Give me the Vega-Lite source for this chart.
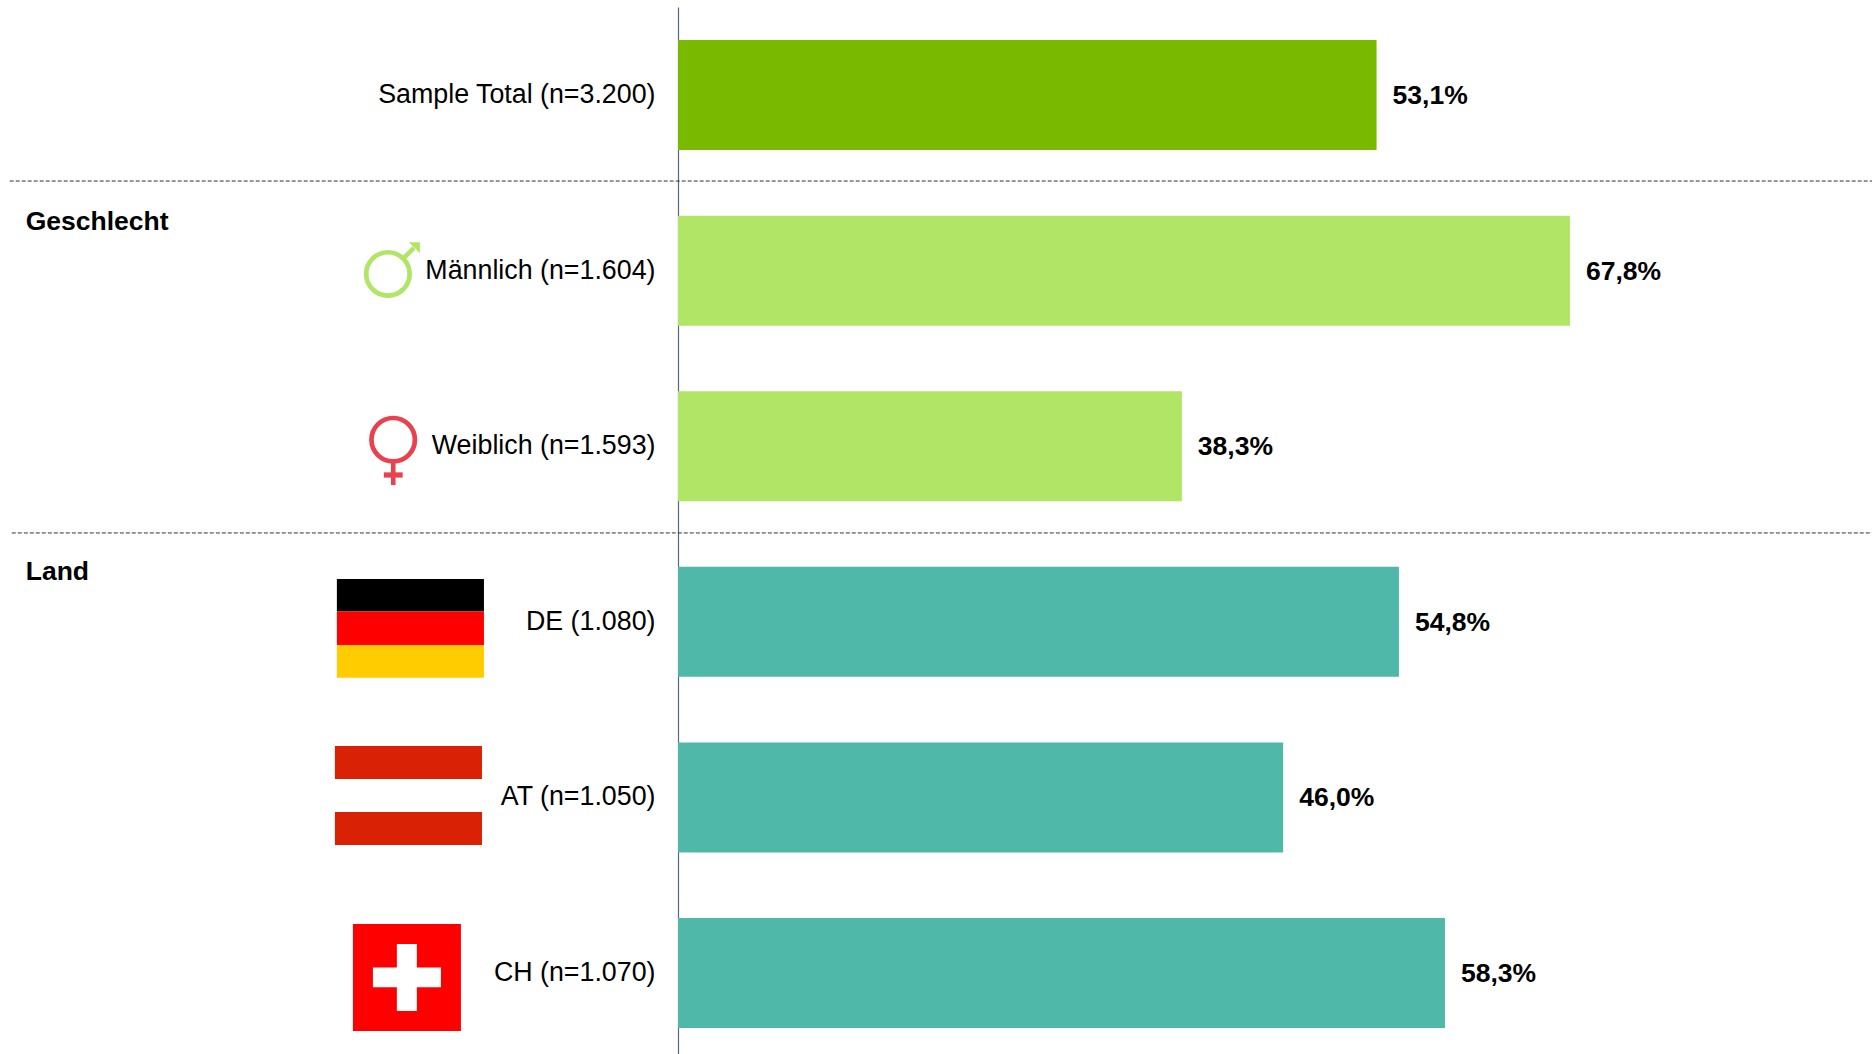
{
"$schema":"https://vega.github.io/schema/vega-lite/v6.json",
"width":1194,"height":1047,
"autosize":"none",
"padding":{"left":678,"top":7,"right":0,"bottom":0},
"background":"white",
"config":{"view":{"stroke":null},"text":{"font":"Liberation Sans"}},
"layer":[
{"data":{"values":[
{"row":"Sample Total (n=3.200)","group":"Total","value":53.1,"label":"53,1%"},
{"row":"Männlich (n=1.604)","group":"Geschlecht","value":67.8,"label":"67,8%"},
{"row":"Weiblich (n=1.593)","group":"Geschlecht","value":38.3,"label":"38,3%"},
{"row":"DE (1.080)","group":"Land","value":54.8,"label":"54,8%"},
{"row":"AT (n=1.050)","group":"Land","value":46.0,"label":"46,0%"},
{"row":"CH (n=1.070)","group":"Land","value":58.3,"label":"58,3%"}
]},
"layer":[
{"mark":{"type":"bar"},
"encoding":{
"y":{"field":"row","type":"nominal","sort":null,"title":null,
"scale":{"domain":["Sample Total (n=3.200)","Männlich (n=1.604)","Weiblich (n=1.593)","DE (1.080)","AT (n=1.050)","CH (n=1.070)"],"paddingInner":0.3736,"paddingOuter":0.168,"align":0.56},
"axis":{"title":null,"ticks":false,"domain":true,"domainColor":"#566684","domainWidth":1.2,"labelFont":"Liberation Sans","labelFontSize":26.8,"labelColor":"#000000","labelPadding":23,"labelLimit":400,"grid":false}},
"x":{"field":"value","type":"quantitative","axis":null,"scale":{"domain":[0,90.76],"zero":false,"nice":false}},
"color":{"field":"group","type":"nominal","legend":null,"scale":{"domain":["Total","Geschlecht","Land"],"range":["#79B900","#B0E566","#50B8A9"]}}
}},
{"mark":{"type":"text","align":"left","baseline":"middle","dx":16,"dy":1,"fontSize":26.5,"fontWeight":"bold","color":"#000000"},
"encoding":{
"y":{"field":"row","type":"nominal","sort":null,"title":null},
"x":{"field":"value","type":"quantitative"},
"text":{"field":"label"}
}}
]},
{"data":{"values":[{}]},
"layer":[
{"mark":{"type":"rule","color":"#333333","strokeWidth":1,"strokeDash":[4,2]},
"encoding":{"x":{"datum":-50.80,"type":"quantitative"},"x2":{"datum":90.76},
"y":{"datum":0.49,"type":"quantitative","axis":null,"scale":{"domain":[5.4613,-0.5011],"zero":false,"nice":false}}}},
{"mark":{"type":"rule","color":"#333333","strokeWidth":1,"strokeDash":[4,2]},
"encoding":{"x":{"datum":-50.64,"type":"quantitative"},"x2":{"datum":90.76},"y":{"datum":2.494,"type":"quantitative"}}},
{"mark":{"type":"text","align":"left","baseline":"middle","fontSize":26.5,"fontWeight":"bold","color":"#000000","text":"Geschlecht"},
"encoding":{"x":{"datum":-49.58,"type":"quantitative"},"y":{"datum":0.724,"type":"quantitative"}}},
{"mark":{"type":"text","align":"left","baseline":"middle","fontSize":26.5,"fontWeight":"bold","color":"#000000","text":"Land"},
"encoding":{"x":{"datum":-49.58,"type":"quantitative"},"y":{"datum":2.717,"type":"quantitative"}}},
{"mark":{"type":"rect","color":"#000000"},"encoding":{"x":{"datum":-25.93,"type":"quantitative"},"x2":{"datum":-14.75},"y":{"datum":2.756,"type":"quantitative"},"y2":{"datum":2.942}}},
{"mark":{"type":"rect","color":"#FF0000"},"encoding":{"x":{"datum":-25.93,"type":"quantitative"},"x2":{"datum":-14.75},"y":{"datum":2.942,"type":"quantitative"},"y2":{"datum":3.132}}},
{"mark":{"type":"rect","color":"#FFCC00"},"encoding":{"x":{"datum":-25.93,"type":"quantitative"},"x2":{"datum":-14.75},"y":{"datum":3.132,"type":"quantitative"},"y2":{"datum":3.318}}},
{"mark":{"type":"rect","color":"#D92105"},"encoding":{"x":{"datum":-26.08,"type":"quantitative"},"x2":{"datum":-14.90},"y":{"datum":3.707,"type":"quantitative"},"y2":{"datum":3.895}}},
{"mark":{"type":"rect","color":"#D92105"},"encoding":{"x":{"datum":-26.08,"type":"quantitative"},"x2":{"datum":-14.90},"y":{"datum":4.083,"type":"quantitative"},"y2":{"datum":4.271}}},
{"mark":{"type":"rect","color":"#FF0000"},"encoding":{"x":{"datum":-24.71,"type":"quantitative"},"x2":{"datum":-16.50},"y":{"datum":4.721,"type":"quantitative"},"y2":{"datum":5.33}}},
{"mark":{"type":"rect","color":"#FFFFFF"},"encoding":{"x":{"datum":-21.37,"type":"quantitative"},"x2":{"datum":-19.85},"y":{"datum":4.835,"type":"quantitative"},"y2":{"datum":5.216}}},
{"mark":{"type":"rect","color":"#FFFFFF"},"encoding":{"x":{"datum":-23.19,"type":"quantitative"},"x2":{"datum":-18.02},"y":{"datum":4.968,"type":"quantitative"},"y2":{"datum":5.081}}},
{"mark":{"type":"point","shape":"circle","size":1884,"filled":false,"stroke":"#B0E566","strokeWidth":4.7,"opacity":1},"encoding":{"x":{"datum":-22.05,"type":"quantitative"},"y":{"datum":1.019,"type":"quantitative"}}},
{"mark":{"type":"point","shape":"M-6,-5.7L5,-5.7L5,5.3ZM-14.6,10.4L-11.4,13.6L0.6,1.6L-2.6,-1.6Z","size":4,"filled":true,"fill":"#B0E566","strokeWidth":0,"opacity":1},"encoding":{"x":{"datum":-20.00,"type":"quantitative"},"y":{"datum":0.871,"type":"quantitative"}}},
{"mark":{"type":"point","shape":"circle","size":1884,"filled":false,"stroke":"#E8424F","strokeWidth":4.7,"opacity":1},"encoding":{"x":{"datum":-21.65,"type":"quantitative"},"y":{"datum":1.963,"type":"quantitative"}}},
{"mark":{"type":"rect","color":"#E8424F"},"encoding":{"x":{"datum":-21.82,"type":"quantitative"},"x2":{"datum":-21.47},"y":{"datum":2.096,"type":"quantitative"},"y2":{"datum":2.221}}},
{"mark":{"type":"rect","color":"#E8424F"},"encoding":{"x":{"datum":-22.36,"type":"quantitative"},"x2":{"datum":-20.93},"y":{"datum":2.149,"type":"quantitative"},"y2":{"datum":2.179}}}
]}
],
"resolve":{"scale":{"y":"independent"},"axis":{"y":"independent"}}
}
